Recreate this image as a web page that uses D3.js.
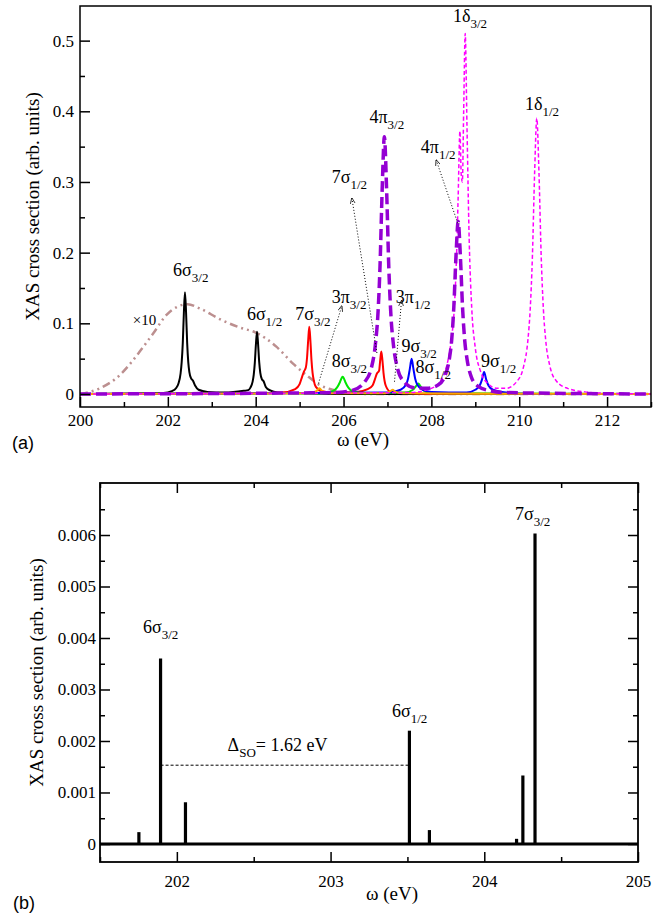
<!DOCTYPE html>
<html>
<head>
<meta charset="utf-8">
<script src="https://cdn.jsdelivr.net/npm/d3@7"></script>
<style>
  body { margin: 0; background: #fff; }
  svg text { font-family: "Liberation Serif", "Times New Roman", serif; fill: #000; }
  .panel-tag { font-family: "Liberation Sans", Arial, sans-serif !important; }
</style>
</head>
<body>
<svg id="fig" width="672" height="916"></svg>
<script>
// ---------------- panel (a) data: broadened spectra, [omega (eV), sigma] ----------------
const brownX10 = [[200, 0], [200.45, 0.008], [200.91, 0.027], [201.21, 0.048], [201.36, 0.06],
  [201.67, 0.086], [201.97, 0.112], [202.2, 0.123], [202.45, 0.127], [202.73, 0.121], [203.18, 0.106],
  [203.64, 0.094], [204.0, 0.087], [204.47, 0.067], [204.85, 0.043], [205.15, 0.027], [205.45, 0.013],
  [205.75, 0.006], [206.06, 0.002], [206.6, 0], [213, 0]];
const blackCurve = [[200, 0], [201.6, 0.001], [201.9, 0.0014], [202.09, 0.004], [202.19, 0.0085],
  [202.24, 0.0145], [202.29, 0.029], [202.315, 0.045], [202.34, 0.072], [202.365, 0.115], [202.39, 0.144],
  [202.415, 0.115], [202.44, 0.072], [202.465, 0.045], [202.49, 0.031], [202.53, 0.022], [202.57, 0.019],
  [202.62, 0.012], [202.7, 0.006], [202.9, 0.003], [203.3, 0.002], [203.73, 0.0045], [203.83, 0.0055],
  [203.88, 0.009], [203.93, 0.0175], [203.955, 0.027], [203.98, 0.044], [204.005, 0.07], [204.03, 0.088],
  [204.055, 0.07], [204.08, 0.045], [204.105, 0.03], [204.14, 0.021], [204.18, 0.018], [204.23, 0.01],
  [204.33, 0.005], [204.5, 0.002], [205, 0.001], [206, 0], [213, 0]];
const redCurve = [[200, 0], [204.2, 0.001], [204.6, 0.002], [204.9, 0.007], [205.0, 0.014], [205.06, 0.025],
  [205.1, 0.032], [205.14, 0.037], [205.17, 0.052], [205.195, 0.076], [205.22, 0.095], [205.245, 0.076],
  [205.27, 0.048], [205.295, 0.03], [205.32, 0.02], [205.37, 0.01], [205.5, 0.004], [205.8, 0.002],
  [206.3, 0.003], [206.55, 0.007], [206.66, 0.012], [206.71, 0.02], [206.76, 0.029], [206.81, 0.033],
  [206.835, 0.048], [206.86, 0.06], [206.885, 0.048], [206.91, 0.03], [206.96, 0.012], [207.06, 0.0035],
  [207.36, 0.0016], [208, 0], [213, 0]];
const greenCurve = [[200, 0], [205.5, 0.001], [205.75, 0.004], [205.85, 0.009], [205.92, 0.017],
  [205.96, 0.023], [205.98, 0.0245], [206.0, 0.023], [206.04, 0.017], [206.11, 0.009], [206.2, 0.004],
  [206.5, 0.001], [207.4, 0.002], [207.58, 0.006], [207.65, 0.011], [207.7, 0.015], [207.75, 0.011],
  [207.82, 0.005], [208.0, 0.001], [213, 0]];
const blueCurve = [[200, 0], [207.0, 0.002], [207.3, 0.006], [207.42, 0.013], [207.47, 0.022],
  [207.51, 0.036], [207.55, 0.05], [207.59, 0.036], [207.63, 0.022], [207.68, 0.013], [207.8, 0.006],
  [208.0, 0.003], [208.8, 0.002], [209.0, 0.006], [209.1, 0.012], [209.15, 0.02], [209.2, 0.031],
  [209.25, 0.02], [209.3, 0.012], [209.4, 0.006], [209.7, 0.002], [210.3, 0], [213, 0]];
const orangeCurve = [[200, 0], [205.2, 0.001], [205.38, 0.004], [205.45, 0.008], [205.52, 0.004],
  [205.7, 0.001], [206.95, 0.001], [207.07, 0.004], [207.12, 0.006], [207.18, 0.003], [207.35, 0.001], [213, 0]];
const magentaCurve = [[200, 0], [207.5, 0.002], [208.0, 0.008], [208.2, 0.018], [208.35, 0.04],
  [208.45, 0.075], [208.52, 0.12], [208.57, 0.19], [208.61, 0.28], [208.65, 0.372], [208.68, 0.31],
  [208.705, 0.30], [208.735, 0.4], [208.77, 0.51], [208.81, 0.38], [208.86, 0.22], [208.92, 0.12],
  [209.0, 0.065], [209.12, 0.032], [209.3, 0.014], [209.5, 0.008], [209.7, 0.008], [209.95, 0.018],
  [210.1, 0.039], [210.2, 0.078], [210.25, 0.12], [210.3, 0.195], [210.35, 0.312], [210.4, 0.39],
  [210.45, 0.312], [210.5, 0.195], [210.55, 0.12], [210.6, 0.078], [210.7, 0.039], [210.85, 0.018],
  [211.1, 0.008], [211.5, 0.003], [212, 0.001], [213, 0]];
const purpleCurve = [[200, 0], [205.8, 0.002], [206.2, 0.005], [206.48, 0.017], [206.63, 0.036],
  [206.73, 0.073], [206.78, 0.11], [206.83, 0.18], [206.88, 0.29], [206.93, 0.364], [206.98, 0.29],
  [207.03, 0.18], [207.08, 0.11], [207.13, 0.073], [207.23, 0.036], [207.38, 0.017], [207.6, 0.009],
  [207.9, 0.008], [208.16, 0.013], [208.31, 0.026], [208.41, 0.05], [208.46, 0.075], [208.51, 0.122],
  [208.56, 0.195], [208.61, 0.244], [208.66, 0.195], [208.71, 0.122], [208.76, 0.075], [208.81, 0.05],
  [208.91, 0.024], [209.06, 0.011], [209.3, 0.005], [209.7, 0.002], [213, 0]];

// ---------------- panel (b) data: stick spectrum ----------------
const stickOmega = [201.753, 201.894, 202.056, 203.513, 203.643, 204.21, 204.251, 204.33];
const stickSigma = [0.00023, 0.0036, 0.00081, 0.0022, 0.00027, 0.0001, 0.00133, 0.00603];
const deltaSO = [201.894, 203.513]; // 6s3/2 -> 6s1/2 splitting
const deltaLevel = 0.00153;

// tick values
const xTicksA = [200, 202, 204, 206, 208, 210, 212];
const xMinorA = [201, 203, 205, 207, 209, 211, 213];
const yTicksA = [0, 0.1, 0.2, 0.3, 0.4, 0.5];
const yMinorA = [0.05, 0.15, 0.25, 0.35, 0.45];
const xTicksB = [202, 203, 204, 205];
const xMinorB = [201.5, 202.5, 203.5, 204.5];
const yTicksB = [0, 0.001, 0.002, 0.003, 0.004, 0.005, 0.006];
const yMinorB = [0.0005, 0.0015, 0.0025, 0.0035, 0.0045, 0.0055, 0.0065];

const svg = d3.select("#fig");
const defs = svg.append("defs");
defs.append("marker")
    .attr("id", "arr")
    .attr("viewBox", "0 0 10 10")
    .attr("refX", 9).attr("refY", 5)
    .attr("markerWidth", 6).attr("markerHeight", 6)
    .attr("markerUnits", "userSpaceOnUse")
    .attr("orient", "auto")
  .append("path")
    .attr("d", "M0,1 L10,5 L0,9")
    .attr("fill", "none").attr("stroke", "#000").attr("stroke-width", 1.2);

// helper: text with a subscript part
function subLabel(g, x, y, main, sub, size) {
  const t = g.append("text").attr("x", x).attr("y", y).attr("font-size", size || 18);
  t.append("tspan").text(main);
  if (sub) t.append("tspan").attr("dy", 6).attr("font-size", 13).text(sub);
  return t;
}

//############################## panel (a) ##############################
const A = {left: 80, right: 651, top: 6, bottom: 407};
const xA = d3.scaleLinear().domain([200, 213]).range([A.left, A.right]);
const yA = d3.scaleLinear().domain([-0.0184, 0.549]).range([A.bottom, A.top]);

defs.append("clipPath").attr("id", "clipA")
  .append("rect").attr("x", A.left).attr("y", A.top)
  .attr("width", A.right - A.left).attr("height", A.bottom - A.top);

const lineA = d3.line()
  .x(d => xA(d[0]))
  .y(d => yA(d[1]))
  .curve(d3.curveMonotoneX);

const curves = [
  {data: brownX10, color: "#bc8f8f", width: 2.5, dash: "8,4,2,4,2,4"},
  {data: blackCurve, color: "#000000", width: 2, dash: null},
  {data: redCurve, color: "#ff0000", width: 2, dash: null},
  {data: greenCurve, color: "#00e600", width: 2, dash: null},
  {data: blueCurve, color: "#0000ff", width: 2, dash: null},
  {data: orangeCurve, color: "#ffa500", width: 2, dash: null},
  {data: magentaCurve, color: "#ff00ff", width: 1.5, dash: "4,2.5"},
  {data: purpleCurve, color: "#9400d3", width: 3.5, dash: "11,5"}
];

const gA = svg.append("g").attr("clip-path", "url(#clipA)");
gA.selectAll("path.curve")
  .data(curves)
  .enter()
  .append("path")
    .attr("class", "curve")
    .attr("d", d => lineA(d.data))
    .attr("fill", "none")
    .attr("stroke", d => d.color)
    .attr("stroke-width", d => d.width)
    .attr("stroke-dasharray", d => d.dash)
    .attr("stroke-linejoin", "round");

// axes (ticks pointing inward)
svg.append("g")
    .attr("transform", "translate(0," + A.bottom + ")")
    .call(d3.axisBottom(xA).tickValues(xTicksA).tickSize(-10).tickPadding(7).tickFormat(d3.format("d")))
    .call(g => g.select(".domain").remove())
    .attr("font-size", 17).attr("font-family", null);
svg.append("g")
    .attr("transform", "translate(0," + A.bottom + ")")
    .call(d3.axisBottom(xA).tickValues(xMinorA).tickSize(-5).tickFormat(""))
    .call(g => g.select(".domain").remove());
svg.append("g")
    .attr("transform", "translate(" + A.left + ",0)")
    .call(d3.axisLeft(yA).tickValues(yTicksA).tickSize(-10).tickPadding(6).tickFormat(d => d === 0 ? "0" : d3.format(".1f")(d)))
    .call(g => g.select(".domain").remove())
    .attr("font-size", 17).attr("font-family", null);
svg.append("g")
    .attr("transform", "translate(" + A.left + ",0)")
    .call(d3.axisLeft(yA).tickValues(yMinorA).tickSize(-5).tickFormat(""))
    .call(g => g.select(".domain").remove());
svg.selectAll(".tick line").attr("stroke-width", 1.5);

svg.append("rect")
    .attr("x", A.left).attr("y", A.top)
    .attr("width", A.right - A.left).attr("height", A.bottom - A.top)
    .attr("fill", "none").attr("stroke", "#000").attr("stroke-width", 1.5);

// arrows
const arrowsA = [
  {from: [205.43, 0.015], to: [205.96, 0.1245]},
  {from: [206.76, 0.058], to: [206.19, 0.277]},
  {from: [207.16, 0.0174], to: [207.32, 0.132]},
  {from: [208.6, 0.2416], to: [208.11, 0.331]}
];
svg.selectAll("line.arrow")
  .data(arrowsA)
  .enter()
  .append("line")
    .attr("class", "arrow")
    .attr("x1", d => xA(d.from[0])).attr("y1", d => yA(d.from[1]))
    .attr("x2", d => xA(d.to[0])).attr("y2", d => yA(d.to[1]))
    .attr("stroke", "#000").attr("stroke-width", 1)
    .attr("stroke-dasharray", "1,2")
    .attr("marker-end", "url(#arr)");

// peak labels
const labelsA = [
  {w: 202.12, s: 0.167, main: "6σ", sub: "3/2"},
  {w: 203.8, s: 0.1047, main: "6σ", sub: "1/2"},
  {w: 204.9, s: 0.1047, main: "7σ", sub: "3/2"},
  {w: 205.73, s: 0.1288, main: "3π", sub: "3/2"},
  {w: 205.73, s: 0.2986, main: "7σ", sub: "1/2"},
  {w: 205.73, s: 0.0382, main: "8σ", sub: "3/2"},
  {w: 206.59, s: 0.3835, main: "4π", sub: "3/2"},
  {w: 207.19, s: 0.1288, main: "3π", sub: "1/2"},
  {w: 207.32, s: 0.0594, main: "9σ", sub: "3/2"},
  {w: 207.64, s: 0.0297, main: "8σ", sub: "1/2"},
  {w: 207.76, s: 0.341, main: "4π", sub: "1/2"},
  {w: 208.49, s: 0.5265, main: "1δ", sub: "3/2"},
  {w: 210.13, s: 0.402, main: "1δ", sub: "1/2"},
  {w: 209.13, s: 0.0382, main: "9σ", sub: "1/2"}
];
labelsA.forEach(l => subLabel(svg, xA(l.w), yA(l.s), l.main, l.sub, 18));
svg.append("text").attr("x", xA(201.2)).attr("y", yA(0.0977)).attr("font-size", 15).text("×10");

svg.append("text")
    .attr("transform", "translate(39," + ((A.top + A.bottom) / 2) + ") rotate(-90)")
    .attr("text-anchor", "middle").attr("font-size", 19)
    .text("XAS cross section (arb. units)");
svg.append("text")
    .attr("x", 363).attr("y", 446)
    .attr("text-anchor", "middle").attr("font-size", 19)
    .text("ω (eV)");
svg.append("text").attr("class", "panel-tag")
    .attr("x", 12).attr("y", 449).attr("font-size", 18).text("(a)");

//############################## panel (b) ##############################
const B = {left: 100, right: 638, top: 483, bottom: 862};
const xB = d3.scaleLinear().domain([201.5, 205]).range([B.left, B.right]);
const yB = d3.scaleLinear().domain([-0.00035, 0.00701]).range([B.bottom, B.top]);

function axesB(g) {
  g.append("g").attr("transform", "translate(0," + B.bottom + ")")
    .call(d3.axisBottom(xB).tickValues(xTicksB).tickSize(-10).tickPadding(13).tickFormat(d3.format("d")))
    .call(s => s.select(".domain").remove())
    .attr("font-size", 17).attr("font-family", null);
  g.append("g").attr("transform", "translate(0," + B.bottom + ")")
    .call(d3.axisBottom(xB).tickValues(xMinorB).tickSize(-5).tickFormat(""))
    .call(s => s.select(".domain").remove());
  g.append("g").attr("transform", "translate(0," + B.top + ")")
    .call(d3.axisTop(xB).tickValues(xTicksB).tickSize(-10).tickFormat(""))
    .call(s => s.select(".domain").remove());
  g.append("g").attr("transform", "translate(0," + B.top + ")")
    .call(d3.axisTop(xB).tickValues(xMinorB).tickSize(-5).tickFormat(""))
    .call(s => s.select(".domain").remove());
  g.append("g").attr("transform", "translate(" + B.left + ",0)")
    .call(d3.axisLeft(yB).tickValues(yTicksB).tickSize(-10).tickPadding(4).tickFormat(d => d === 0 ? "0" : d3.format(".3f")(d)))
    .call(s => s.select(".domain").remove())
    .attr("font-size", 17).attr("font-family", null);
  g.append("g").attr("transform", "translate(" + B.left + ",0)")
    .call(d3.axisLeft(yB).tickValues(yMinorB).tickSize(-5).tickFormat(""))
    .call(s => s.select(".domain").remove());
  g.append("g").attr("transform", "translate(" + B.right + ",0)")
    .call(d3.axisRight(yB).tickValues(yTicksB).tickSize(-10).tickFormat(""))
    .call(s => s.select(".domain").remove());
  g.append("g").attr("transform", "translate(" + B.right + ",0)")
    .call(d3.axisRight(yB).tickValues(yMinorB).tickSize(-5).tickFormat(""))
    .call(s => s.select(".domain").remove());
  g.selectAll(".tick line").attr("stroke-width", 1.5);
}
axesB(svg.append("g"));

// zero baseline and sticks
svg.append("line")
    .attr("x1", B.left).attr("x2", B.right)
    .attr("y1", yB(0)).attr("y2", yB(0))
    .attr("stroke", "#000").attr("stroke-width", 3);
svg.selectAll("line.stick")
  .data(stickOmega)
  .enter()
  .append("line")
    .attr("class", "stick")
    .attr("x1", d => xB(d)).attr("x2", d => xB(d))
    .attr("y1", yB(0))
    .attr("y2", (d, i) => yB(stickSigma[i]))
    .attr("stroke", "#000").attr("stroke-width", 3.2);

svg.append("line")
    .attr("x1", xB(deltaSO[0])).attr("x2", xB(deltaSO[1]))
    .attr("y1", yB(deltaLevel)).attr("y2", yB(deltaLevel))
    .attr("stroke", "#000").attr("stroke-width", 1)
    .attr("stroke-dasharray", "3,2");

svg.append("rect")
    .attr("x", B.left).attr("y", B.top)
    .attr("width", B.right - B.left).attr("height", B.bottom - B.top)
    .attr("fill", "none").attr("stroke", "#000").attr("stroke-width", 1.8);

const labelsB = [
  {w: 201.78, s: 0.0041, main: "6σ", sub: "3/2"},
  {w: 203.4, s: 0.00247, main: "6σ", sub: "1/2"},
  {w: 204.2, s: 0.00629, main: "7σ", sub: "3/2"}
];
labelsB.forEach(l => subLabel(svg, xB(l.w), yB(l.s), l.main, l.sub, 18));

const dl = svg.append("text").attr("x", xB(202.33)).attr("y", yB(0.0018)).attr("font-size", 18);
dl.append("tspan").text("Δ");
dl.append("tspan").attr("dy", 6).attr("font-size", 13).text("SO");
dl.append("tspan").attr("dy", -6).text("= 1.62 eV");

svg.append("text")
    .attr("transform", "translate(43," + ((B.top + B.bottom) / 2) + ") rotate(-90)")
    .attr("text-anchor", "middle").attr("font-size", 19)
    .text("XAS cross section (arb. units)");
svg.append("text")
    .attr("x", xB(203.4)).attr("y", 900)
    .attr("text-anchor", "middle").attr("font-size", 19)
    .text("ω (eV)");
svg.append("text").attr("class", "panel-tag")
    .attr("x", 13).attr("y", 909).attr("font-size", 18).text("(b)");
</script>
</body>
</html>
